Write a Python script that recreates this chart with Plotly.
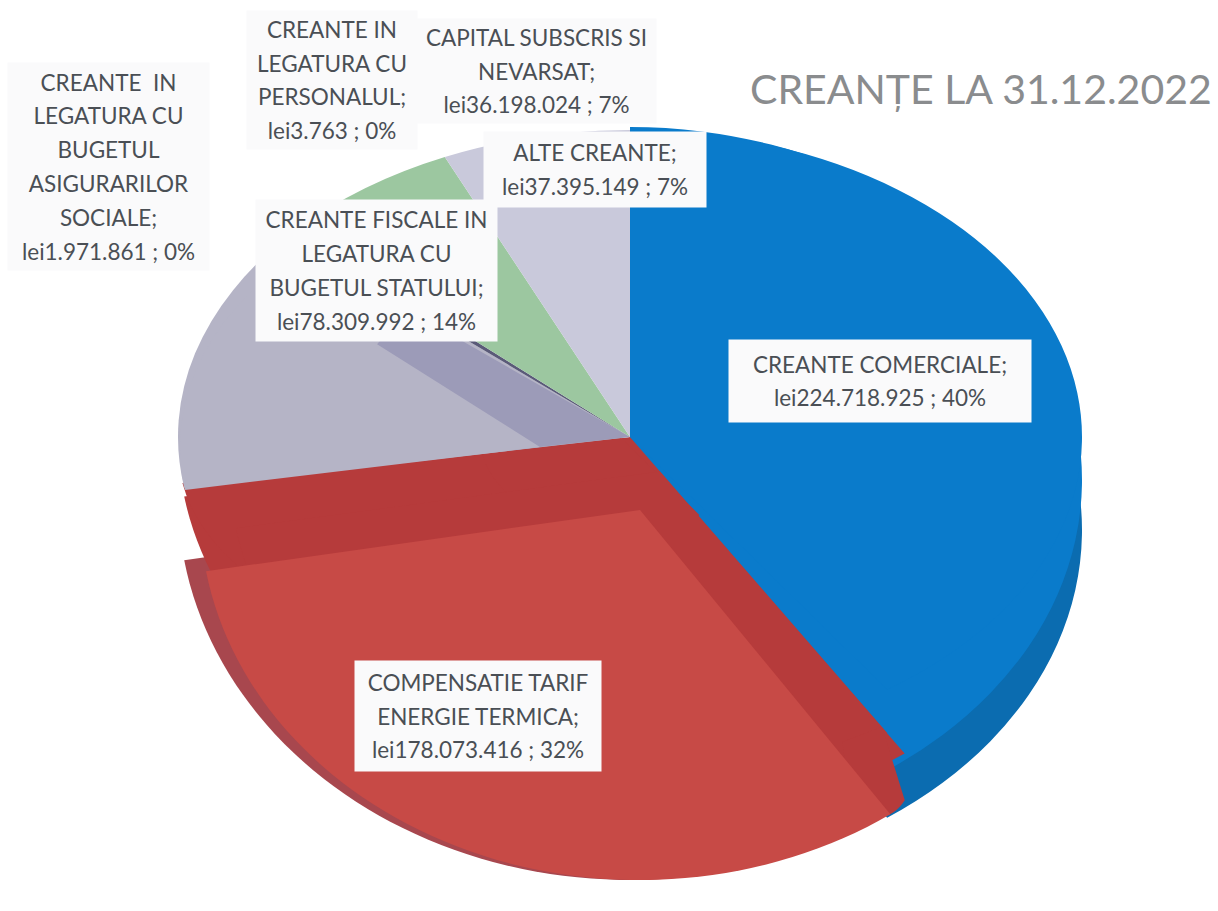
import json
import plotly.graph_objects as go

W, H = 1218, 911

names = [
    "CREANTE COMERCIALE",
    "COMPENSATIE TARIF ENERGIE TERMICA",
    "CREANTE FISCALE IN LEGATURA CU BUGETUL STATULUI",
    "CREANTE IN LEGATURA CU BUGETUL ASIGURARILOR SOCIALE",
    "CREANTE IN LEGATURA CU PERSONALUL",
    "CAPITAL SUBSCRIS SI NEVARSAT",
    "ALTE CREANTE",
]
values = [224718925, 178073416, 78309992, 1971861, 3763, 36198024, 37395149]
value_labels = ["lei224.718.925 ; 40%", "lei178.073.416 ; 32%", "lei78.309.992 ; 14%",
                "lei1.971.861 ; 0%", "lei3.763 ; 0%", "lei36.198.024 ; 7%", "lei37.395.149 ; 7%"]
name_lines = [
    ["CREANTE COMERCIALE;"],
    ["COMPENSATIE TARIF", "ENERGIE TERMICA;"],
    ["CREANTE FISCALE IN", "LEGATURA CU", "BUGETUL STATULUI;"],
    ["CREANTE  IN", "LEGATURA CU", "BUGETUL", "ASIGURARILOR", "SOCIALE;"],
    ["CREANTE IN", "LEGATURA CU", "PERSONALUL;"],
    ["CAPITAL SUBSCRIS SI", "NEVARSAT;"],
    ["ALTE CREANTE;"],
]
title_text = "CREANȚE LA 31.12.2022"

NONE = "rgba(0,0,0,0)"
base_cx, base_cy, base_r = 630, H / 2, 452
# Layers of the pseudo-3D pie: colours per slice, and where each copy of the pie sits
layers = [
    dict(colors=["#0B6CB0", NONE, NONE, NONE, NONE, NONE, NONE], cx=630, cy=530, rx=452, ry=350),
    dict(colors=[NONE, "#A8474E", NONE, NONE, NONE, NONE, NONE], cx=630, cy=497, rx=452, ry=383),
    dict(colors=["#0A7BCB", NONE, NONE, NONE, NONE, NONE, NONE], cx=630, cy=480, rx=452, ry=353),
    dict(colors=[NONE, "#B63B3B", NONE, NONE, NONE, NONE, NONE], cx=630, cy=437, rx=452, ry=360),
    dict(colors=[NONE, "#B63B3B", NONE, NONE, NONE, NONE, NONE], cx=500, cy=450, rx=322, ry=200),
    dict(colors=[NONE, "#B63B3B", NONE, NONE, NONE, NONE, NONE], cx=620, cy=437, rx=140, ry=95),
    dict(colors=[NONE, "#B63B3B", NONE, NONE, NONE, NONE, NONE], cx=660, cy=471.5, rx=430, ry=343),
    dict(colors=[NONE, "#B63B3B", NONE, NONE, NONE, NONE, NONE], cx=882, cy=727, rx=40, ry=89),
    dict(colors=[NONE, "#C74A46", NONE, NONE, NONE, NONE, NONE], cx=640, cy=510, rx=440, ry=370),
    dict(colors=["#0A7BCB", NONE, "#B5B4C6", "#5A5A78", "#5A5A78", "#9CC7A0", "#C9C9DB"],
         cx=630, cy=437, rx=452, ry=307),
    dict(colors=[NONE, NONE, "#9C9BB8", NONE, NONE, NONE, NONE], cx=630, cy=437, rx=290, ry=190),
    dict(colors=[NONE, NONE, "#B5B4C6", NONE, NONE, NONE, NONE], cx=540, cy=447, rx=360, ry=260),
]

fig = go.Figure()
for layer in layers:
    fig.add_trace(go.Pie(
        labels=names, values=values, sort=False, direction="clockwise", rotation=0,
        textinfo="none", hoverinfo="label+value+percent", showlegend=False,
        marker=dict(colors=layer["colors"], line=dict(width=0)),
        domain=dict(x=[(base_cx - base_r) / W, (base_cx + base_r) / W],
                    y=[(base_cy - base_r) / H, (base_cy + base_r) / H]),
    ))

boxes = [(880, 381, 300, 80), (478, 716, 244, 108), (376, 271, 239, 139), (108, 167, 199, 205),
         (332, 80, 168, 136), (536, 71, 237, 102), (595, 169, 220, 73)]
annotations = []
for (x, y, w, h), lines, lab in zip(boxes, name_lines, value_labels):
    text = "<br>".join(f'<span style="font-size:22.5px">{t}</span>' for t in lines + [lab])
    annotations.append(dict(
        x=x / W, y=1 - y / H, xref="paper", yref="paper", xanchor="center", yanchor="middle",
        text=text, showarrow=False, width=w, height=h, bgcolor="#FAFAFB",
        font=dict(family="Lato, sans-serif", size=26, color="#4A4F55"), align="center", valign="middle",
    ))
annotations.append(dict(
    x=981 / W, y=1 - 88 / H, xref="paper", yref="paper", xanchor="center", yanchor="middle",
    text=title_text, showarrow=False,
    font=dict(family="Lato, sans-serif", size=41, color="#8A8C8E"),
))

fig.update_layout(width=W, height=H, margin=dict(l=0, r=0, t=0, b=0), autosize=False,
                  paper_bgcolor="#FFFFFF", annotations=annotations)

post = """
document.body.style.margin = '0';
document.body.style.overflow = 'hidden';
var specs = %s, c = %s;
document.querySelectorAll('.pielayer .trace').forEach(function (t, i) {
  var s = specs[i];
  t.setAttribute('transform', 'translate(' + s.cx + ',' + s.cy + ') scale(' + (s.rx / c[2]) + ',' + (s.ry / c[2]) +
    ') translate(' + (-c[0]) + ',' + (-c[1]) + ')');
});
""" % (json.dumps([{k: l[k] for k in ("cx", "cy", "rx", "ry")} for l in layers]),
       json.dumps([base_cx, base_cy, base_r]))

fig.write_html("out.html", post_script=post, config=dict(displayModeBar=False))
